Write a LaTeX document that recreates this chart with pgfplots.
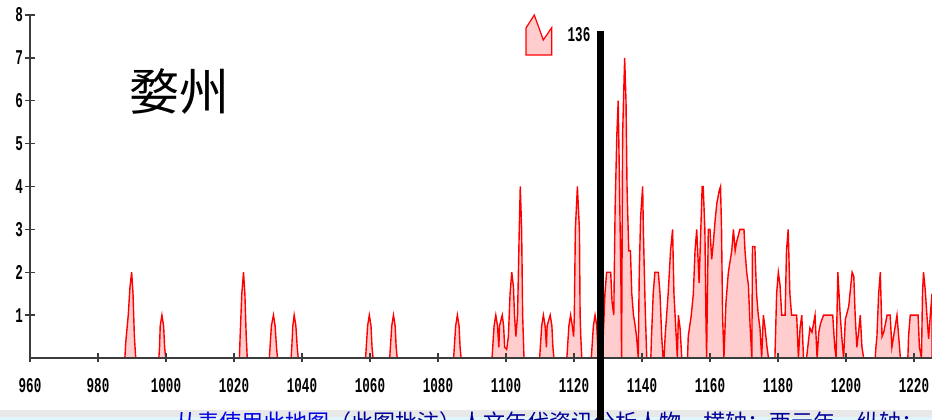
\documentclass[border=0pt]{standalone}
\usepackage{graphicx}
\usepackage{pgfplots}
\pgfplotsset{compat=1.18}
\usepackage{fontspec}
\newfontfamily\cjk{Noto Sans CJK SC}
\newfontfamily\tickfont{Liberation Mono}
\definecolor{axisgray}{RGB}{60,60,60}
\definecolor{pinkfill}{RGB}{255,205,205}
\definecolor{linkblue}{RGB}{0,0,230}
\newcommand\tl[1]{\scalebox{0.6}[1]{\tickfont\bfseries\fontsize{21}{21}\selectfont #1}}

\begin{document}
\begin{tikzpicture}
\useasboundingbox (-30pt,-62pt) rectangle (902pt,358pt);
\begin{axis}[
  scale only axis,
  width=902pt, height=343pt,
  xmin=960, xmax=1225.3,
  ymin=0, ymax=8,
  axis lines=left,
  axis line style={-, line width=1.8pt, axisgray},
  axis on top,
  tick align=center,
  major tick length=9pt,
  tick style={line width=1.4pt, axisgray},
  xtick={960,980,...,1220},
  xticklabels={\tl{960},\tl{980},\tl{1000},\tl{1020},\tl{1040},\tl{1060},\tl{1080},\tl{1100},\tl{1120},\tl{1140},\tl{1160},\tl{1180},\tl{1200},\tl{1220}},
  ytick={1,2,...,8},
  yticklabels={\tl{1},\tl{2},\tl{3},\tl{4},\tl{5},\tl{6},\tl{7},\tl{8}},
  xticklabel shift=12pt,
  yticklabel shift=-1pt,
  clip=true,
]
\addplot[draw=red, line width=1.4pt, fill=pinkfill] coordinates {
  (960,0)
  (987.9,0)(988.2,0.4)(988.9,1)(989.4,1.65)(989.9,2)(990.3,1.5)(990.7,0.5)(991.1,0)
  (997.9,0)(998.1,0.25)(998.3,0.75)(998.8,1)(999.3,0.75)(999.6,0.25)(999.9,0)
  (1021.6,0)(1021.8,0.5)(1022.3,1.5)(1022.8,2)(1023.2,1.5)(1023.6,0.5)(1023.9,0)
  (1030.4,0)(1030.6,0.25)(1031.0,0.75)(1031.6,1)(1032.1,0.75)(1032.5,0.25)(1032.8,0)
  (1036.8,0)(1037.0,0.25)(1037.3,0.75)(1037.7,1)(1038.2,0.75)(1038.6,0.25)(1038.9,0)
  (1058.7,0)(1058.9,0.25)(1059.3,0.75)(1059.8,1)(1060.3,0.75)(1060.6,0.25)(1060.9,0)
  (1065.8,0)(1066.0,0.25)(1066.4,0.75)(1066.9,1)(1067.4,0.75)(1067.7,0.25)(1068.0,0)
  (1084.6,0)(1084.8,0.25)(1085.2,0.75)(1085.7,1)(1086.2,0.75)(1086.5,0.25)(1086.8,0)
  (1095.9,0)(1096.1,0.25)(1096.5,0.75)(1097.0,1)(1097.5,0.75)(1097.9,0.25)
  (1098.1,0.75)(1098.9,1)(1099.3,0.75)(1099.6,0.25)(1100.2,0.2)
  (1100.7,0.5)(1101.2,1.5)(1101.7,2)(1102.2,1.66)(1102.5,1)(1102.9,0.5)(1103.4,1)
  (1103.9,3)(1104.2,4)(1104.6,3)(1104.9,1)(1105.3,0)
  (1109.9,0)(1110.1,0.25)(1110.5,0.75)(1111.0,1)(1111.5,0.75)(1111.9,0.25)
  (1112.1,0.75)(1113.0,1)(1113.5,0.75)(1113.8,0.25)(1114.1,0)
  (1117.9,0)(1118.1,0.25)(1118.5,0.75)(1119.0,1)(1119.5,0.75)(1119.9,0.5)
  (1120.1,1)(1120.4,3)(1121.0,4)(1121.6,3)(1121.8,1)(1122.0,0.5)(1122.3,0)
  (1125.1,0)(1125.3,0.25)(1125.7,0.75)(1126.2,1)(1126.7,0.75)(1127.0,0.25)(1127.3,0)
  (1127.8,0)(1128.3,0.3)(1128.6,0.5)(1129.1,1.5)(1129.6,2)(1130.8,2)(1131.2,1.3)
  (1131.7,1)(1132.1,3.5)(1132.6,5.2)(1133.0,6)(1133.3,4.5)(1133.8,1.8)(1134.0,0)
  (1134.3,5.2)(1134.9,7)(1135.3,6)(1135.6,4)(1136.1,2.5)(1136.6,2.5)(1137.0,1.5)
  (1137.5,1)(1138.0,0.75)(1138.4,0.5)(1138.9,0)(1139.2,2)(1139.6,3.3)(1140.2,4)
  (1140.4,3)(1140.9,1.3)(1141.4,0)
  (1142.6,0)(1142.8,0.5)(1143.3,1.5)(1143.8,2)(1144.8,2)(1145.3,1.5)(1145.8,0.5)(1146.2,0)
  (1146.5,0)(1146.8,0.5)(1147.7,1.5)(1148.4,2.5)(1149.0,3)(1149.4,1.5)(1150.0,0.6)
  (1150.4,0)(1150.7,1)(1151.2,0.7)(1151.7,0)
  (1153.4,0)(1153.6,0.5)(1154.5,1)(1155.1,1.5)(1155.6,2.5)(1156.1,3)(1156.8,1.75)
  (1157.3,3)(1157.7,4)(1158.0,4)(1158.5,3)(1158.8,1)(1159.0,0)(1159.5,3)(1160.0,3)
  (1160.5,2.3)(1161.0,2.7)(1161.5,3.2)(1162.0,3.6)(1162.7,3.9)(1163.1,4)(1163.4,3)
  (1163.7,1)(1164.1,0)(1164.7,1.3)(1165.4,2)(1166.4,2.5)(1166.9,3)(1167.4,2.5)
  (1167.8,2.7)(1168.8,3)(1170.0,3)(1170.3,2.5)(1170.8,2)(1171.3,1.7)(1171.8,0.75)
  (1172.3,0)(1172.5,2.6)(1173.2,2.6)(1173.7,1.5)(1174.2,1)(1174.7,0.7)(1175.2,0)
  (1175.7,1)(1176.2,0.7)(1176.7,0.3)(1177.2,0)
  (1179.1,0)(1179.6,1.5)(1180.1,2)(1180.6,1.7)(1181.1,1)(1182.1,1)(1182.5,2.5)
  (1183.0,3)(1183.5,1.5)(1184.0,1)(1185.5,1)(1186.0,0)(1186.5,0.7)(1187.0,1)
  (1187.5,0)(1188.4,0)(1189.4,0.7)(1190.0,0.6)(1190.9,1)(1191.5,0)(1192.0,0.6)
  (1192.5,0.8)(1193.4,1)(1196.1,1)(1196.7,0.25)(1197.1,0)(1197.6,2)(1198.3,1)
  (1198.8,0.45)(1199.3,0)(1199.8,0.9)(1200.8,1.2)(1201.3,1.6)(1201.8,2)(1202.3,1.9)
  (1202.7,1)(1203.2,0.25)(1203.7,0.6)(1204.2,1)(1204.7,0.25)(1205.2,0)
  (1208.6,0)(1208.8,0.25)(1209.1,0.5)(1209.6,1.5)(1210.1,2)(1210.6,0.5)(1211.1,0.6)
  (1212.1,1)(1213.0,1)(1213.5,0.25)(1214.0,0.5)(1215.0,1)(1215.5,0.5)(1216.0,0)
  (1218.2,0)(1218.4,0.5)(1218.9,1)(1221.2,1)(1221.6,0.25)(1222.2,0)(1222.5,1.5)
  (1222.8,2)(1223.3,1.6)(1223.8,1)(1224.3,0.45)(1224.8,1)(1225.3,1.5)
} \closedcycle;
\end{axis}
% title
\node[font=\cjk\fontsize{50}{50}\selectfont, black] at (149pt,266pt) {婺州};
% legend entry
\draw[red, line width=1.2pt, fill=pinkfill, line join=miter]
  (496pt,330pt) -- (504.3pt,343pt) -- (513.3pt,318pt) -- (521.7pt,330.3pt)
  -- (521.7pt,303pt) -- (496pt,303pt) -- cycle;
\node[inner sep=0pt] at (549pt,323pt) {\tl{136}};
% bottom strip
\fill[gray!18] (-30pt,-52pt) rectangle (902pt,-59pt);
\fill[cyan!12] (-30pt,-59pt) rectangle (902pt,-62pt);
\begin{scope}
\clip (-30pt,-62pt) rectangle (902pt,-45pt);
\node[anchor=north west, inner sep=0pt, font=\cjk\fontsize{22}{22}\selectfont]
  at (145pt,-53pt) {\textcolor{linkblue}{从表使用此地图}\textcolor{blue!60!black}{（此图批注）人文年代资讯分析人物，横轴：西元年，纵轴：人物数量}};
\end{scope}
% marker line
\fill[black] (567pt,-62pt) rectangle (573.5pt,327pt);
\end{tikzpicture}
\end{document}
